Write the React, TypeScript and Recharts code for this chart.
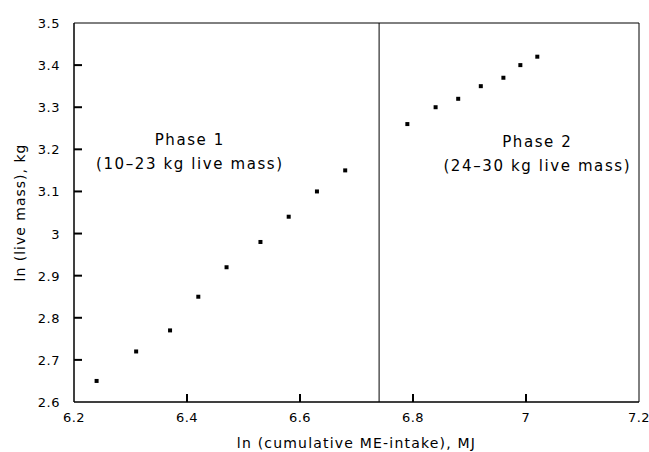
import React from 'react';
import { ScatterChart, Scatter, XAxis, YAxis, ReferenceLine, ReferenceDot, ReferenceArea } from 'recharts';

const phase1X = [6.24, 6.31, 6.37, 6.42, 6.47, 6.53, 6.58, 6.63, 6.68];
const phase1Y = [2.65, 2.72, 2.77, 2.85, 2.92, 2.98, 3.04, 3.1, 3.15];
const phase2X = [6.79, 6.84, 6.88, 6.92, 6.96, 6.99, 7.02];
const phase2Y = [3.26, 3.3, 3.32, 3.35, 3.37, 3.4, 3.42];

const xTicks = [6.2, 6.4, 6.6, 6.8, 7, 7.2];
const yTicks = [2.6, 2.7, 2.8, 2.9, 3, 3.1, 3.2, 3.3, 3.4, 3.5];
const phaseBreak = 6.74;

const phase1 = phase1X.map((x, i) => ({ x, y: phase1Y[i] }));
const phase2 = phase2X.map((x, i) => ({ x, y: phase2Y[i] }));

const FONT = '"DejaVu Sans", sans-serif';

// square-ish point marks like the plotter output
const Dot = (props: any) => (
  <rect x={props.cx - 2} y={props.cy - 2} width={4} height={4} fill="#000" />
);

// label outside the frame plus an inward tick mark; the axis sits tickMargin above y
const XTick = (props: any) => {
  const { x, y, payload, index } = props;
  const edge = index === 0 || index === xTicks.length - 1;
  return (
    <g>
      {!edge && <path d={`M${x},${y - 8}V${y - 16}`} stroke="#000" strokeWidth={2} fill="none" />}
      <text x={x} y={y + 12} textAnchor="middle" fontSize={13} letterSpacing={0.5} fontFamily={FONT} fill="#000">
        {payload.value}
      </text>
    </g>
  );
};

const YTick = (props: any) => {
  const { x, y, payload, index } = props;
  const edge = index === 0 || index === yTicks.length - 1;
  return (
    <g>
      {!edge && <path d={`M${x + 14},${y}H${x + 22}`} stroke="#000" strokeWidth={2} fill="none" />}
      <text x={x} y={y + 5} textAnchor="end" fontSize={13} letterSpacing={0.5} fontFamily={FONT} fill="#000">
        {payload.value}
      </text>
    </g>
  );
};

const PhaseLabel = ({ cx, cy, lines }: any) => (
  <text textAnchor="middle" fontSize={15} letterSpacing={1.6} fontFamily={FONT} fill="#000">
    <tspan x={cx} y={cy - 9}>{lines[0]}</tspan>
    <tspan x={cx} y={cy + 15}>{lines[1]}</tspan>
  </text>
);

export default function App() {
  return (
    <div style={{ position: 'absolute', left: 0, top: 0, background: '#fff' }}>
      <ScatterChart width={649} height={452} margin={{ top: 23, right: 10, bottom: 0, left: 0 }}>
        <XAxis
          type="number"
          dataKey="x"
          domain={[6.2, 7.2]}
          ticks={xTicks}
          tickLine={false}
          tickSize={0}
          tickMargin={8}
          tick={<XTick />}
          height={50}
          stroke="#000"
          label={{ value: 'ln (cumulative ME-intake), MJ', position: 'insideBottom', offset: 4, fontSize: 14, letterSpacing: 1.2, fontFamily: FONT, fill: '#000' }}
        />
        <YAxis
          type="number"
          dataKey="y"
          domain={[2.6, 3.5]}
          ticks={yTicks}
          tickLine={false}
          tickSize={0}
          tickMargin={14}
          tick={<YTick />}
          width={74}
          stroke="#000"
          label={{ value: 'ln (live mass), kg', angle: -90, position: 'insideLeft', offset: 20, style: { textAnchor: 'middle' }, fontSize: 14, letterSpacing: 1, fontFamily: FONT, fill: '#000' }}
        />
        <ReferenceArea x1={6.2} x2={7.2} y1={2.6} y2={3.5} fill="none" fillOpacity={0} stroke="#000" strokeWidth={1} />
        <ReferenceLine x={phaseBreak} stroke="#000" strokeWidth={1} />
        <ReferenceDot x={6.405} y={3.19} r={0} shape={(p: any) => <PhaseLabel {...p} lines={['Phase 1', '(10\u201323 kg live mass)']} />} />
        <ReferenceDot x={7.02} y={3.185} r={0} shape={(p: any) => <PhaseLabel {...p} lines={['Phase 2', '(24\u201330 kg live mass)']} />} />
        <Scatter data={phase1} shape={<Dot />} isAnimationActive={false} />
        <Scatter data={phase2} shape={<Dot />} isAnimationActive={false} />
      </ScatterChart>
    </div>
  );
}
